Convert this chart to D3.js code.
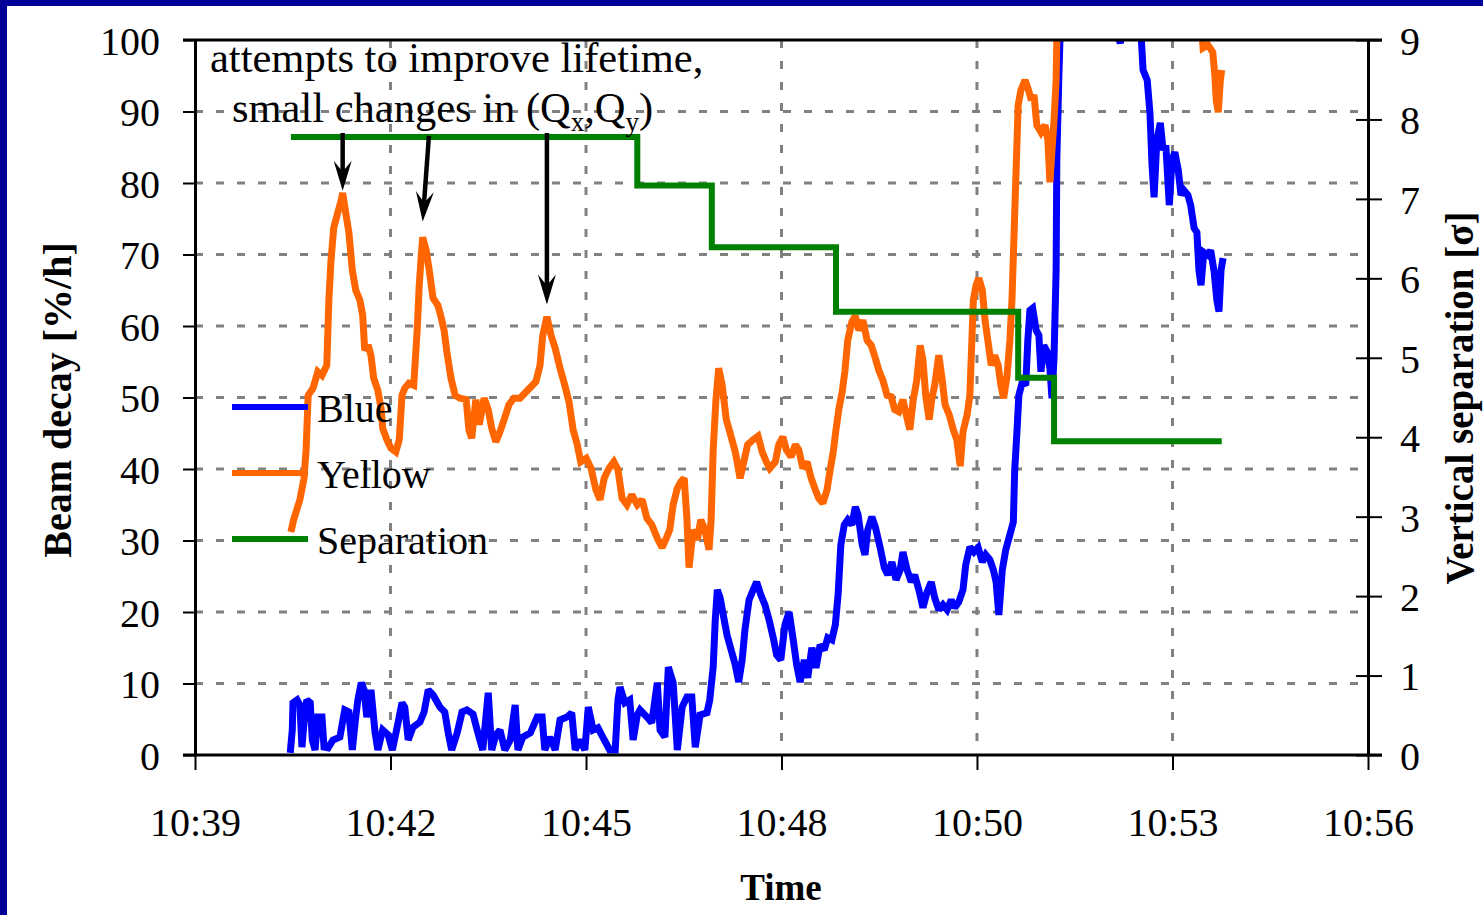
<!DOCTYPE html>
<html>
<head>
<meta charset="utf-8">
<script src="https://cdn.jsdelivr.net/npm/d3@7"></script>
<style>
  html, body { margin: 0; padding: 0; background: #ffffff; }
  svg { display: block; }
  text { font-family: "Liberation Serif", "Times New Roman", serif; fill: #000; }
</style>
</head>
<body>
<svg id="chart" width="1483" height="915"></svg>
<script>
// ---------------- DATA (time in minutes after 10:00) ----------------
const xTickTimes  = [39, 41.833, 44.667, 47.5, 50.333, 53.167, 56];
const xTickLabels = ["10:39", "10:42", "10:45", "10:48", "10:50", "10:53", "10:56"];
const leftTicks   = [0, 10, 20, 30, 40, 50, 60, 70, 80, 90, 100];
const rightTicks  = [0, 1, 2, 3, 4, 5, 6, 7, 8, 9];

const yellowTime = [40.39,40.43,40.52,40.58,40.61,40.64,40.71,40.78,40.84,40.91,40.94,40.97,41.01,41.07,41.12,41.14,41.19,41.23,41.28,41.33,41.39,41.43,41.46,41.51,41.55,41.59,41.65,41.70,41.72,41.78,41.84,41.91,41.96,42.00,42.04,42.10,42.17,42.22,42.25,42.28,42.30,42.35,42.39,42.45,42.52,42.57,42.61,42.65,42.71,42.77,42.84,42.93,42.97,43.01,43.07,43.12,43.19,43.25,43.30,43.36,43.42,43.48,43.55,43.62,43.71,43.80,43.87,43.94,44.00,44.04,44.10,44.16,44.22,44.29,44.36,44.42,44.48,44.54,44.59,44.67,44.74,44.81,44.87,44.93,45.00,45.07,45.13,45.19,45.26,45.33,45.41,45.48,45.55,45.62,45.70,45.77,45.83,45.88,45.93,45.99,46.04,46.09,46.13,46.16,46.22,46.28,46.33,46.39,46.45,46.48,46.51,46.55,46.59,46.64,46.70,46.75,46.83,46.90,46.96,47.01,47.09,47.16,47.22,47.28,47.33,47.41,47.46,47.52,47.57,47.64,47.70,47.75,47.81,47.87,47.93,47.99,48.04,48.10,48.16,48.20,48.25,48.29,48.33,48.38,48.42,48.46,48.52,48.57,48.62,48.68,48.74,48.80,48.86,48.91,48.97,49.03,49.09,49.14,49.20,49.26,49.32,49.36,49.41,49.46,49.51,49.55,49.59,49.64,49.68,49.72,49.78,49.83,49.87,49.93,49.99,50.04,50.09,50.13,50.19,50.23,50.28,50.32,50.36,50.41,50.45,50.49,50.54,50.59,50.64,50.68,50.72,50.77,50.81,50.84,50.87,50.90,50.93,50.97,51.03,51.07,51.12,51.16,51.20,51.26,51.32,51.36,51.39,51.42,51.45,51.48,51.49,51.52,51.83,52.55,53.28,53.57,53.61,53.68,53.75,53.78,53.80,53.83,53.86,53.88];
const yellowValue = [31.2,32.9,35.7,38.7,42.7,50.3,51.3,53.6,53.1,54.5,63.6,69.0,73.7,75.9,77.6,78.6,75.5,73.1,67.8,65.0,63.6,61.5,56.6,57.3,55.9,52.7,51.0,48.3,45.7,44.1,42.9,42.4,44.1,50.3,51.3,52.0,51.7,59.4,65.7,69.9,72.4,70.6,68.1,63.9,62.9,61.1,59.4,56.4,52.7,50.3,49.9,49.7,45.5,44.3,49.7,46.2,49.9,48.3,45.7,43.8,45.2,46.9,49.0,49.9,49.9,50.8,51.5,52.2,54.5,58.7,61.3,58.7,56.9,54.1,51.7,49.4,45.5,43.4,41.0,41.5,40.1,37.1,35.7,38.7,40.1,41.0,39.9,35.9,35.0,36.4,35.0,35.7,33.1,32.2,30.3,29.0,30.3,31.5,35.0,37.3,38.2,38.7,32.9,26.2,31.5,30.1,32.9,31.5,28.7,32.9,42.7,49.7,54.1,51.7,46.9,45.2,42.4,38.7,41.3,43.4,44.1,44.6,42.4,41.0,40.1,41.0,43.4,44.5,42.7,41.7,43.4,42.7,40.1,41.0,38.7,37.1,35.9,35.2,37.1,39.6,42.4,45.5,48.3,50.8,53.8,58.0,60.6,61.4,59.4,60.8,58.0,57.3,55.5,53.8,52.4,50.3,50.1,48.3,48.0,49.7,47.1,45.5,49.7,52.4,57.3,55.2,50.3,46.9,49.9,51.7,55.9,52.4,49.0,47.6,45.5,44.1,40.4,45.2,47.6,50.3,63.6,65.7,66.7,65.0,60.8,58.0,54.5,55.9,54.5,51.7,49.9,53.1,58.0,63.6,72.7,81.8,90.9,93.0,94.4,93.3,91.6,92.3,88.1,87.1,88.1,86.0,80.1,84.6,88.8,94.4,100.0,105.6,115,120,112,104,98.9,99.3,98.3,95.1,91.6,89.9,94.4,95.8];

const blueTime = [40.38,40.41,40.42,40.48,40.52,40.55,40.58,40.62,40.67,40.70,40.74,40.78,40.84,40.87,40.93,41.00,41.10,41.17,41.23,41.28,41.32,41.36,41.41,41.45,41.49,41.55,41.61,41.65,41.72,41.80,41.86,41.93,42.00,42.04,42.09,42.16,42.26,42.32,42.38,42.45,42.55,42.62,42.67,42.72,42.80,42.87,42.94,43.03,43.10,43.17,43.25,43.30,43.36,43.42,43.49,43.57,43.64,43.68,43.75,43.86,43.96,44.03,44.07,44.14,44.22,44.29,44.39,44.46,44.51,44.58,44.65,44.70,44.77,44.84,44.91,45.01,45.09,45.13,45.16,45.23,45.30,45.35,45.41,45.45,45.55,45.62,45.70,45.74,45.81,45.86,45.93,45.99,46.06,46.13,46.20,46.25,46.32,46.42,46.46,46.51,46.54,46.57,46.61,46.65,46.71,46.77,46.83,46.88,46.93,46.97,47.03,47.09,47.14,47.20,47.26,47.32,47.38,47.43,47.49,47.55,47.61,47.67,47.72,47.77,47.83,47.88,47.94,48.00,48.06,48.12,48.17,48.23,48.28,48.32,48.36,48.41,48.46,48.52,48.57,48.61,48.67,48.71,48.75,48.81,48.86,48.93,48.99,49.04,49.10,49.16,49.22,49.26,49.32,49.38,49.43,49.49,49.55,49.61,49.67,49.72,49.78,49.84,49.90,49.96,50.01,50.07,50.13,50.17,50.23,50.29,50.35,50.41,50.46,50.52,50.57,50.61,50.65,50.70,50.75,50.81,50.86,50.88,50.91,50.94,50.99,51.04,51.07,51.10,51.14,51.19,51.23,51.26,51.30,51.35,51.39,51.42,51.45,51.48,51.49,51.52,51.54,51.83,52.12,52.35,52.41,52.46,52.62,52.71,52.74,52.80,52.84,52.87,52.90,52.94,52.99,53.03,53.07,53.12,53.16,53.20,53.25,53.29,53.33,53.39,53.43,53.48,53.52,53.55,53.58,53.62,53.68,53.72,53.77,53.81,53.84,53.87,53.90];
const blueValue = [0.3,3.5,7.3,7.7,7.0,1.1,4.6,7.7,7.3,2.1,0.7,5.3,5.3,1.1,1.0,2.1,2.5,6.3,6.0,0.7,4.5,7.7,10.1,9.1,5.3,9.1,3.1,0.7,3.5,2.8,0.7,3.9,7.3,6.7,2.1,3.9,4.6,6.0,9.1,8.4,6.7,6.0,3.1,0.7,3.1,6.0,6.3,5.7,3.1,0.7,8.7,0.7,2.8,3.5,0.7,2.1,7.0,0.7,2.5,3.1,5.3,5.3,0.7,2.5,0.7,4.9,5.3,5.9,0.7,2.1,0.7,6.7,3.5,3.8,2.5,0.7,0.7,7.7,9.5,7.3,7.7,2.1,5.6,6.3,5.3,4.5,10.1,3.5,2.5,12.3,10.1,0.7,6.7,8.1,8.1,1.1,5.6,5.9,7.7,12.3,18.9,23.1,22.0,19.9,16.8,14.7,12.6,10.2,13.3,17.5,21.7,23.1,24.2,22.4,21.0,18.9,16.4,14.0,13.3,18.2,20.0,16.1,12.6,10.2,13.3,10.8,15.0,12.2,15.4,14.7,16.4,16.1,18.2,22.4,29.4,32.2,32.9,32.2,34.7,33.6,29.4,28.0,31.5,33.3,31.9,29.0,26.2,25.2,27.0,24.5,25.9,28.4,25.9,24.2,25.2,23.1,20.6,22.8,24.2,22.0,20.3,21.0,20.3,21.7,20.6,21.4,23.1,26.6,29.1,28.4,29.0,27.0,28.0,27.3,25.9,24.2,19.6,25.9,28.7,30.8,32.6,39.9,44.8,50.3,52.2,51.7,58.0,62.2,62.5,59.4,58.7,53.6,57.3,56.4,54.1,49.9,55.7,67.8,83.2,95.1,101.4,112,108,101,99.6,101.5,106,101,95.8,94.4,89.8,82.5,78.0,86.0,88.4,84.6,85.3,76.9,83.2,84.3,81.8,78.3,79.0,78.3,76.9,73.7,73.1,67.8,65.7,70.3,69.9,70.6,67.6,63.6,62.0,67.8,69.5];

const sepTime  = [40.39, 45.41, 46.49, 48.29, 50.93, 51.45, 53.88];
const sepValue = [7.78, 7.17, 6.39, 5.58, 4.75, 3.95, 3.95];

// annotation arrows: start (time,value) -> tip (time,value), left axis units
const arrowStartTime = [41.14, 42.39, 44.10];
const arrowStartValue = [87.0, 86.6, 87.0];
const arrowTipTime = [41.14, 42.30, 44.10];
const arrowTipValue = [78.9, 74.6, 63.0];

const seriesNames = ["Blue", "Yellow", "Separation"];
const seriesColors = ["#0000ff", "#ff6600", "#008000"];

// ---------------- LAYOUT ----------------
const W = 1483, H = 915;
const plot = { left: 195, right: 1368, top: 40, bottom: 755 };

const svg = d3.select("#chart");

// frame
svg.append("rect").attr("x", 0).attr("y", 0).attr("width", W).attr("height", H).attr("fill", "#fff");
svg.append("rect").attr("x", 0).attr("y", 0).attr("width", W).attr("height", 6).attr("fill", "#000099");
svg.append("rect").attr("x", 0).attr("y", 0).attr("width", 7).attr("height", H).attr("fill", "#000099");

const x = d3.scaleLinear().domain([39, 56]).range([plot.left, plot.right]);
const yL = d3.scaleLinear().domain([0, 100]).range([plot.bottom, plot.top]);
const yR = d3.scaleLinear().domain([0, 9]).range([plot.bottom, plot.top]);

// gridlines
const grid = svg.append("g").attr("stroke", "#808080").attr("stroke-width", 3).attr("stroke-dasharray", "8,13");
grid.selectAll("line.h").data(leftTicks.slice(1, -1)).join("line")
  .attr("x1", plot.left).attr("x2", plot.right)
  .attr("y1", d => yL(d)).attr("y2", d => yL(d));
grid.selectAll("line.v").data(xTickTimes.slice(1, -1)).join("line")
  .attr("class", "v")
  .attr("y1", plot.top).attr("y2", plot.bottom)
  .attr("x1", d => x(d)).attr("x2", d => x(d));

// clip
svg.append("clipPath").attr("id", "clip").append("rect")
  .attr("x", plot.left).attr("y", plot.top)
  .attr("width", plot.right - plot.left).attr("height", plot.bottom - plot.top);

const dataG = svg.append("g").attr("clip-path", "url(#clip)");

const lineL = d3.line().x(d => x(d[0])).y(d => yL(d[1]));
const lineStep = d3.line().x(d => x(d[0])).y(d => yR(d[1])).curve(d3.curveStepAfter);

dataG.append("path").datum(blueTime.map((t, i) => [t, blueValue[i]]))
  .attr("d", lineL).attr("fill", "none").attr("stroke", seriesColors[0])
  .attr("stroke-width", 7).attr("stroke-linejoin", "miter").attr("stroke-miterlimit", 2);
dataG.append("path").datum(yellowTime.map((t, i) => [t, yellowValue[i]]))
  .attr("d", lineL).attr("fill", "none").attr("stroke", seriesColors[1])
  .attr("stroke-width", 7).attr("stroke-linejoin", "miter").attr("stroke-miterlimit", 2);
dataG.append("path").datum(sepTime.map((t, i) => [t, sepValue[i]]))
  .attr("d", lineStep).attr("fill", "none").attr("stroke", seriesColors[2])
  .attr("stroke-width", 6);

// axes
const FS = 40;
const axL = svg.append("g").attr("transform", `translate(${plot.left},0)`)
  .call(d3.axisLeft(yL).tickValues(leftTicks).tickSize(12).tickSizeOuter(0).tickFormat(d3.format("d")));
axL.select(".domain").attr("stroke", "#000").attr("stroke-width", 3);
axL.selectAll(".tick line").attr("stroke", "#000").attr("stroke-width", 2);
axL.selectAll(".tick text").attr("x", -35).attr("dy", "0.36em")
  .attr("font-size", FS).attr("font-family", "Liberation Serif").attr("fill", "#000");

const axR = svg.append("g").attr("transform", `translate(${plot.right},0)`)
  .call(d3.axisRight(yR).tickValues(rightTicks).tickSize(14).tickSizeOuter(0));
axR.select(".domain").attr("stroke", "#000").attr("stroke-width", 3);
axR.selectAll(".tick line").attr("x1", -12).attr("stroke", "#000").attr("stroke-width", 2);
axR.selectAll(".tick text").attr("x", 32).attr("dy", "0.36em")
  .attr("font-size", FS).attr("font-family", "Liberation Serif").attr("fill", "#000");

const axB = svg.append("g").attr("transform", `translate(0,${plot.bottom})`)
  .call(d3.axisBottom(x).tickValues(xTickTimes).tickSize(15).tickSizeOuter(0)
    .tickFormat((d, i) => xTickLabels[i]));
axB.select(".domain").attr("stroke", "#000").attr("stroke-width", 3)
  .attr("d", `M${plot.left - 12},0H${plot.right + 14}`);
axB.selectAll(".tick line").attr("stroke", "#000").attr("stroke-width", 2);
axB.selectAll(".tick text").attr("y", 81).attr("dy", 0)
  .attr("font-size", FS).attr("font-family", "Liberation Serif").attr("fill", "#000");

// top border
svg.append("line").attr("x1", plot.left - 12).attr("x2", plot.right + 14)
  .attr("y1", plot.top).attr("y2", plot.top).attr("stroke", "#000").attr("stroke-width", 3);

// axis titles
svg.append("text").attr("x", 781).attr("y", 900).attr("text-anchor", "middle")
  .attr("font-size", 37).attr("font-weight", "bold").text("Time");
svg.append("text").attr("transform", "translate(71,400) rotate(-90)").attr("text-anchor", "middle")
  .attr("font-size", 40).attr("font-weight", "bold").text("Beam decay [%/h]");
svg.append("text").attr("transform", "translate(1473,398) rotate(-90)").attr("text-anchor", "middle")
  .attr("font-size", 39).attr("font-weight", "bold").text("Vertical separation [σ]");

// annotation text
svg.append("text").attr("x", 210).attr("y", 72).attr("font-size", 42.5).text("attempts to improve lifetime,");
const t2 = svg.append("text").attr("x", 232).attr("y", 122).attr("font-size", 42.5);
t2.append("tspan").text("small changes in (Q");
t2.append("tspan").attr("font-size", 27).attr("dy", 9).text("x");
t2.append("tspan").attr("dy", -9).text(",Q");
t2.append("tspan").attr("font-size", 27).attr("dy", 9).text("y");
t2.append("tspan").attr("dy", -9).text(")");

// arrows
const arrowG = svg.append("g");
arrowStartTime.forEach((t, i) => {
  const x1 = x(t), y1 = yL(arrowStartValue[i]);
  const x2 = x(arrowTipTime[i]), y2 = yL(arrowTipValue[i]);
  const ang = Math.atan2(y2 - y1, x2 - x1);
  const L = 30, Wd = 9, notch = 19;
  const ux = Math.cos(ang), uy = Math.sin(ang);
  const px = -uy, py = ux;
  const bx = x2 - ux * L, by = y2 - uy * L;
  const nx = x2 - ux * notch, ny = y2 - uy * notch;
  arrowG.append("line").attr("x1", x1).attr("y1", y1).attr("x2", nx).attr("y2", ny)
    .attr("stroke", "#000").attr("stroke-width", 4.5);
  arrowG.append("path")
    .attr("d", `M${x2},${y2}L${bx + px * Wd},${by + py * Wd}L${nx},${ny}L${bx - px * Wd},${by - py * Wd}Z`)
    .attr("fill", "#000");
});

// legend
const legY = [407, 473, 539];
const leg = svg.append("g");
seriesNames.forEach((name, i) => {
  leg.append("line").attr("x1", 232).attr("x2", 308).attr("y1", legY[i]).attr("y2", legY[i])
    .attr("stroke", seriesColors[i]).attr("stroke-width", 6);
  leg.append("text").attr("x", 317).attr("y", legY[i] + 15).attr("font-size", 40).text(name);
});
</script>
</body>
</html>
